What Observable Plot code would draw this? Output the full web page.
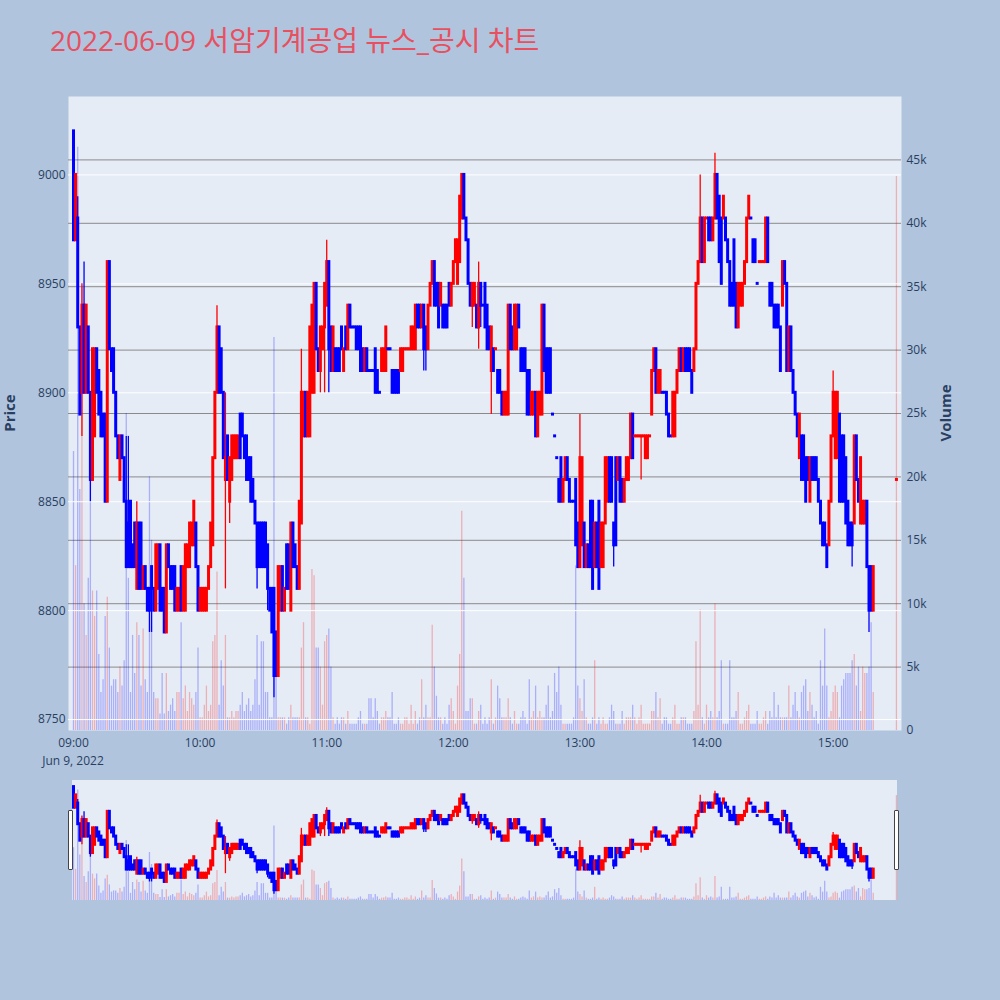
<!DOCTYPE html>
<html>
<head>
<meta charset="utf-8">
<script src="https://cdn.jsdelivr.net/npm/d3@7"></script>
<script src="https://cdn.jsdelivr.net/npm/@observablehq/plot@0.6"></script>
<style>
  html,body{margin:0;padding:0;background:#b0c4de;}
  #chart{position:relative;width:1000px;height:1000px;background:#b0c4de;overflow:hidden;font-family:"Open Sans","Noto Sans CJK KR",sans-serif;}
  #chart .abs{position:absolute;}
  #chart svg{position:absolute;left:0;}
</style>
</head>
<body>
<div id="chart"></div>
<script>
// ---------------- data ----------------
const titleText = "2022-06-09 서암기계공업 뉴스_공시 차트";
const dateLabel = "Jun 9, 2022";
const priceLabel = "Price";
const volumeLabel = "Volume";

// one candle per minute from 09:00 (index = minutes after 09:00)
const open = [
9020,8970,8980,8930,8900,8940,8900,8930,8900,8860,
8880,8920,8910,8900,8890,8890,8850,8960,8920,8920,
8900,8880,8860,8880,8870,8850,8840,8850,8830,8840,
8810,8840,8840,8810,8820,8810,8810,8820,8810,8800,
8810,8830,8810,8810,8790,8830,8820,8820,8820,8800,
8800,8820,8800,8800,8820,8820,8830,8830,8840,8820,
8800,8800,8800,8800,8810,8820,8830,8870,8900,8930,
8920,8900,8860,8880,8850,8860,8870,8870,8870,8890,
8890,8880,8880,8870,8870,8860,8850,8840,8840,8840,
8840,8840,8830,8810,8810,8810,8790,8770,8800,8820,
8800,8830,8830,8800,8840,8830,8820,8810,8840,8880,
8900,8880,8880,8900,8900,8950,8920,8910,8920,8930,
8940,8960,8930,8910,8920,8920,8920,8930,8910,8930,
8920,8940,8930,8930,8930,8930,8930,8920,8910,8920,
8910,8910,8910,8920,8910,8900,8910,8910,8910,8920,
8920,8910,8910,8910,8910,8910,8910,8920,8920,8920,
8920,8920,8920,8940,8940,8930,8940,8930,8920,8940,
8950,8960,8950,8950,8940,8940,8940,8940,8950,8940,
8950,8960,8950,8960,8980,9000,8980,8970,8950,8940,
8940,8940,8930,8950,8940,8950,8940,8930,8910,8920,
8920,8910,8910,8900,8890,8890,8890,8940,8930,8920,
8920,8940,8920,8920,8920,8910,8910,8890,8890,8900,
8880,8890,8890,8940,8920,8920,8920,8890,8880,8870,
8860,8870,8850,8860,8870,8860,8850,8850,8860,8840,
8820,8830,8840,8820,8830,8850,8850,8820,8840,8850,
8820,8820,8840,8850,8870,8870,8840,8870,8860,8870,
8860,8850,8860,8860,8870,8890,8880,8880,8880,8880,
8880,8870,8870,8880,8890,8910,8920,8900,8900,8900,
8900,8900,8890,8880,8880,8880,8900,8910,8920,8910,
8920,8920,8920,8910,8910,8920,8950,8960,8980,8960,
8980,8980,8980,8970,8980,9000,8990,8980,8980,8980,
8970,8960,8950,8970,8950,8930,8940,8940,8950,8960,
8980,8980,8970,8970,8950,8960,8960,8960,8960,8980,
8950,8950,8940,8940,8940,8930,8940,8960,8950,8910,
8930,8910,8900,8890,8870,8880,8880,8870,8870,8850,
8870,8870,8870,8860,8850,8840,8840,8830,8830,8850,
8880,8870,8870,8890,8880,8880,8870,8850,8840,8840,
8840,8880,8860,8840,8840,8840,8850,8820,8820,8800
];
const close = [
8970,9000,8930,8890,8940,8900,8940,8900,8860,8920,
8920,8900,8890,8880,8880,8850,8960,8920,8910,8900,
8880,8870,8880,8870,8850,8820,8820,8820,8820,8820,
8840,8810,8810,8820,8810,8800,8800,8810,8800,8830,
8830,8800,8800,8790,8830,8820,8810,8810,8800,8810,
8810,8800,8820,8830,8830,8840,8840,8850,8820,8800,
8810,8810,8810,8810,8820,8840,8870,8900,8930,8900,
8900,8870,8870,8860,8870,8880,8880,8880,8880,8870,
8880,8870,8860,8860,8850,8850,8840,8820,8820,8820,
8820,8820,8810,8800,8790,8770,8770,8820,8820,8800,
8810,8810,8810,8840,8820,8820,8810,8850,8900,8900,
8880,8900,8930,8940,8950,8920,8910,8930,8930,8950,
8960,8920,8910,8930,8910,8910,8910,8920,8920,8920,
8940,8930,8930,8930,8920,8920,8910,8910,8920,8910,
8910,8910,8910,8900,8900,8900,8920,8920,8930,8920,
8920,8900,8900,8900,8900,8920,8920,8920,8920,8920,
8930,8930,8940,8930,8930,8940,8920,8920,8940,8950,
8960,8940,8940,8930,8950,8930,8930,8930,8940,8950,
8960,8970,8970,8990,9000,8980,8970,8950,8940,8950,
8950,8930,8950,8940,8940,8930,8920,8920,8930,8910,
8920,8900,8900,8890,8900,8900,8940,8920,8920,8940,
8940,8930,8910,8910,8910,8890,8890,8900,8900,8880,
8900,8900,8940,8910,8900,8900,8900,8890,8880,8870,
8850,8850,8860,8870,8860,8850,8850,8850,8830,8820,
8870,8870,8820,8830,8820,8820,8810,8840,8820,8810,
8840,8840,8870,8870,8850,8850,8830,8830,8870,8850,
8850,8860,8870,8870,8890,8870,8880,8880,8880,8880,
8880,8880,8880,8880,8910,8920,8900,8910,8910,8900,
8900,8890,8880,8880,8900,8900,8910,8920,8910,8920,
8910,8910,8910,8900,8920,8950,8960,8980,8960,8980,
8980,8970,8970,8980,9000,8980,8960,8950,8990,8970,
8960,8940,8940,8940,8930,8950,8950,8950,8960,8980,
8990,8980,8960,8960,8950,8960,8960,8960,8980,8960,
8940,8940,8930,8930,8930,8910,8960,8950,8910,8930,
8910,8900,8890,8880,8890,8860,8860,8850,8860,8870,
8860,8860,8860,8850,8840,8830,8830,8820,8850,8880,
8900,8900,8900,8850,8850,8850,8840,8830,8830,8830,
8880,8860,8850,8870,8850,8850,8820,8800,8800,8820
];
// wicks beyond the body: [minute index, price]
const upperWicks = [[0,9020],[2,8990],[4,8950],[5,8960],[25,8880],[26,8880],[30,8850],[68,8940],[72,8900],[108,8920],[120,8970],[192,8960],[240,8890],[297,9000],[304,9010],[360,8910]];
const lowerWicks = [[4,8880],[8,8850],[36,8790],[37,8790],[72,8810],[74,8840],[87,8810],[92,8800],[95,8760],[117,8900],[119,8900],[121,8900],[166,8910],[167,8910],[189,8930],[192,8920],[193,8930],[198,8890],[256,8820],[269,8860],[369,8820],[377,8790]];
// volume per minute, thousands of shares
const volumeK = [
22,13,46,19,35,10,7.5,12,25,11,
9,11,6,3,4,9,10.5,6.5,3.5,4,
4,3,5,3.5,5.5,25,12,3,7.5,4.5,
8.5,7.5,3.5,8,4,3,20,15,3,2.5,
2.5,1.3,4.5,1.3,4.5,1.5,2,2.5,1.5,3,
3,8.5,2.5,3.5,1.5,3,2.5,2,3,6.5,
1,1,2,3.5,1.5,2,7,7.5,12.5,2,
5.5,3.5,7.5,1,1,1.5,1,1.5,1.5,2,
3,1.5,2,2.5,1.5,2,4,7.5,2,7,
7,3,3,1,1,31,7.5,1,1,1,
1,0.5,1,2,1,1,1,1,6.5,8.5,
1,1,0.5,12.7,12.2,6.5,6.5,5,2,7,
7.5,8,5,1,0.5,1,0.5,1,1,0.5,
1.5,0.5,0.5,0.5,0.5,1,1.5,0.5,0.5,0.5,
2.5,2.5,1,2.5,1.5,0.5,1,1,1.5,1,
1,3,0.5,0.5,1,0.5,0.5,1,1,0.5,
2,0.5,1.5,0.5,1,4,1,2,1,1,
8.3,5,2.7,1,1,0.5,1,0.5,2,2.5,
1.5,0.5,3.5,6,17.3,12,1.5,1.5,2.5,2.5,
0.5,0.5,1.5,2,0.5,1,0.5,1,4,0.5,
1,3.5,2.5,1,1,1,2.5,1,0.5,1.5,
0.5,0.5,1,1.5,1,0.5,4,1,1.5,3.5,
1,1.5,1,1,2,3.5,1,1.5,4.5,3,
5,2,0.5,0.5,0.5,0.5,0.5,1,13,3.5,
2.5,1.5,4,1,0.5,0.5,1,5.5,0.5,1,
0.5,1,0.5,0.5,1,2,1.5,0.5,0.5,0.5,
1.5,0.5,1,1,1,2,1,0.5,1,2,
0.5,0.5,0.5,0.5,1.5,1.5,3,1,2.5,0.5,
1,1,0.5,0.5,1,2,0.5,0.5,1,1,
1,0.5,0.5,0.5,1.5,7,2,9.5,1,0.5,
2,1,1.5,1,10,1,1.5,5.5,0.5,0.5,
0.5,5.5,1,1,1.5,3,0.5,0.5,1,1.5,
2,0.5,0.5,0.5,1.5,0.5,0.5,1,1.5,0.5,
1.5,1,3,1,2,1,1,1,1,3.5,
1,2,3,1.5,1,3,3.5,4,1.5,3,
2,1,1.5,0.5,5.5,3.5,8,3.5,1,1.5,
3,3.5,3,1,3.5,4,4.5,4.5,4.5,5.5,
6,3.5,5,1.5,5,4.5,4.5,5,8.5,3
];
// closing auction print
const auctionTime = "15:30";
const auctionPrice = 8860;
const auctionVolumeK = 43.7;

const priceTicks = [8750, 8800, 8850, 8900, 8950, 9000];
const volumeTicks = [0, 5000, 10000, 15000, 20000, 25000, 30000, 35000, 40000, 45000];
const volumeTickLabels = ["0","5k","10k","15k","20k","25k","30k","35k","40k","45k"];
const xTickLabels = ["09:00","10:00","11:00","12:00","13:00","14:00","15:00"];

// ---------------- build ----------------
const MIN = 60000;
const day = (hhmm) => { const [h, m] = hhmm.split(":").map(Number); return new Date(Date.UTC(2022, 5, 9, h, m)); };
const t0 = +day("09:00");
const rows = open.map((o, i) => ({
  t: new Date(t0 + i * MIN), o, c: close[i],
  h: Math.max(o, close[i]), l: Math.min(o, close[i]), v: volumeK[i] * 1000
}));
for (const [i, h] of upperWicks) rows[i].h = h;
for (const [i, l] of lowerWicks) rows[i].l = l;
rows.push({t: day(auctionTime), o: auctionPrice, c: auctionPrice, h: auctionPrice, l: auctionPrice, v: auctionVolumeK * 1000});
// plotly-style direction (equal open/close -> compare with previous close)
let prevDir = 1, prevC = null;
for (const r of rows) {
  let d = r.c > r.o ? 1 : r.c < r.o ? -1 : (prevC == null ? prevDir : r.c > prevC ? 1 : r.c < prevC ? -1 : prevDir);
  r.dir = d; prevDir = d; prevC = r.c;
}
const UP = "#ff0000", DOWN = "#0000ff";
const col = d => d.dir > 0 ? UP : DOWN;

const xDomain = [new Date(t0 - 2.37 * MIN), new Date(t0 + 392.4 * MIN)];
const priceDomain = [8745, 9036];
const volumeDomain = [0, 50000];
const xTicks = xTickLabels.map(day);
const baseStyle = {background: "transparent", overflow: "visible", color: "#2a3f5f", fontFamily: '"Open Sans", sans-serif', fontSize: "12px"};

const root = document.getElementById("chart");
function place(el, top) { el.style.position = "absolute"; el.style.top = top + "px"; el.style.left = "0px"; root.appendChild(el); }
function div(css, text) { const d = document.createElement("div"); d.className = "abs"; d.style.cssText = css; if (text != null) d.textContent = text; root.appendChild(d); return d; }

function volumePlot({height, marginTop, marginBottom, full}) {
  const marks = [];
  if (full) {
    marks.push(Plot.frame({fill: "#e5ecf6", stroke: null}));
    marks.push(Plot.ruleY(volumeTicks.slice(1), {stroke: "#8a8a8a", strokeWidth: 1}));
  }
  marks.push(Plot.ruleX(rows, {x: "t", y1: 0, y2: "v", stroke: col, strokeOpacity: 0.26, strokeWidth: 1.3}));
  if (full) marks.push(Plot.axisY(volumeTicks, {anchor: "right", tickSize: 0, tickPadding: 5, label: null,
    tickFormat: d => volumeTickLabels[volumeTicks.indexOf(d)]}));
  return Plot.plot({
    width: 1000, height, marginLeft: 68, marginRight: 99, marginTop, marginBottom,
    x: {type: "utc", domain: xDomain, axis: null},
    y: {domain: volumeDomain, ...(full ? {} : {axis: null})},
    color: {type: "identity"},
    style: baseStyle, marks
  });
}
function pricePlot({height, marginTop, marginBottom, full}) {
  const marks = [];
  if (full) marks.push(Plot.ruleY(priceTicks, {stroke: "#ffffff", strokeWidth: 1}));
  marks.push(Plot.ruleX(rows, {x: "t", y1: "l", y2: "h", stroke: col, strokeWidth: 1.3}));
  marks.push(Plot.ruleX(rows, {x: "t", y1: "o", y2: "c", stroke: col, strokeWidth: 3, strokeLinecap: "square"}));
  if (full) {
    marks.push(Plot.axisY(priceTicks, {anchor: "left", tickSize: 0, tickPadding: 3, label: null, tickFormat: d => String(d)}));
    marks.push(Plot.axisX(xTicks, {anchor: "bottom", tickSize: 0, tickPadding: 8, label: null,
      tickFormat: d => xTickLabels[xTicks.findIndex(t => +t === +d)]}));
  }
  return Plot.plot({
    width: 1000, height, marginLeft: 68, marginRight: 99, marginTop, marginBottom,
    x: {type: "utc", domain: xDomain, ...(full ? {} : {axis: null})},
    y: {domain: priceDomain, ...(full ? {} : {axis: null})},
    color: {type: "identity"},
    style: baseStyle, marks
  });
}

// title
div("left:50px;top:23px;font-size:28px;line-height:34px;color:#e8505f;white-space:nowrap;font-family:'Open Sans','Noto Sans CJK KR',sans-serif;", titleText);

// main chart (volume underneath, price on top)
place(volumePlot({height: 770, marginTop: 96, marginBottom: 40, full: true}), 0);
place(pricePlot({height: 770, marginTop: 96, marginBottom: 40, full: true}), 0);

// date under first time tick
div("left:73px;top:760px;transform:translate(-50%,-50%);font-size:12px;line-height:13px;color:#2a3f5f;white-space:nowrap;font-family:'Open Sans',sans-serif;", dateLabel);

// axis titles
div("left:9px;top:413px;transform:translate(-50%,-50%) rotate(-90deg);font-size:15px;font-weight:bold;color:#2a3f5f;white-space:nowrap;", priceLabel);
div("left:945px;top:413px;transform:translate(-50%,-50%) rotate(-90deg);font-size:15px;font-weight:bold;color:#2a3f5f;white-space:nowrap;", volumeLabel);

// range slider
div("left:72px;top:780px;width:825px;height:120px;background:#e5ecf6;");
place(volumePlot({height: 120, marginTop: 0, marginBottom: 0, full: false}), 780);
place(pricePlot({height: 120, marginTop: 0, marginBottom: 0, full: false}), 780);
div("left:68px;top:810px;width:3px;height:58px;background:#fff;border:1px solid #444;border-radius:1px;");
div("left:894px;top:810px;width:3px;height:58px;background:#fff;border:1px solid #444;border-radius:1px;");
</script>
</body>
</html>
